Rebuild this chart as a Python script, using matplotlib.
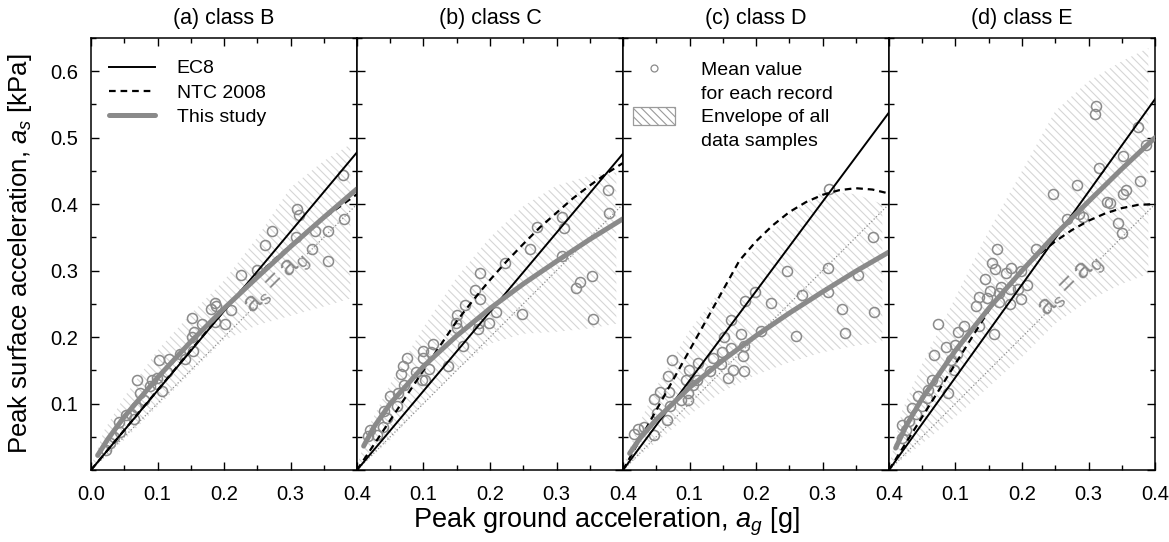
import matplotlib
matplotlib.use("Agg")
import matplotlib.pyplot as plt
from matplotlib.lines import Line2D
from matplotlib.patches import Patch
from matplotlib.ticker import MultipleLocator

plt.rcParams["font.family"] = ["Liberation Sans", "DejaVu Sans"]
plt.rcParams["mathtext.fontset"] = "custom"
plt.rcParams["mathtext.rm"] = "Liberation Sans"
plt.rcParams["mathtext.it"] = "Liberation Sans:italic"
plt.rcParams["hatch.linewidth"] = 0.8

TITLES = ["(a) class B", "(b) class C", "(c) class D", "(d) class E"]

# EC8 straight line: a_s at a_g = 0 and 0.4
EC8_X = [0.0, 0.4]
EC8_B = [0.0, 0.478]
EC8_C = [0.0, 0.476]
EC8_D = [0.0, 0.538]
EC8_E = [0.0, 0.558]

# NTC 2008 curves
NTC_X = [0.0, 0.05, 0.1, 0.15, 0.175, 0.2, 0.225, 0.25, 0.275, 0.3, 0.325, 0.35, 0.375, 0.4]
NTC_B = [0.0, 0.06, 0.12, 0.18, 0.21, 0.24, 0.269, 0.293, 0.316, 0.338, 0.359, 0.379, 0.397, 0.415]
NTC_C = [0.0, 0.075, 0.15, 0.224, 0.256, 0.286, 0.314, 0.340, 0.365, 0.387, 0.409, 0.428, 0.446, 0.462]
NTC_D = [0.0, 0.09, 0.18, 0.27, 0.315, 0.344, 0.368, 0.388, 0.403, 0.414, 0.421, 0.424, 0.422, 0.416]
NTC_E = [0.0, 0.08, 0.16, 0.24, 0.274, 0.300, 0.324, 0.344, 0.361, 0.375, 0.386, 0.394, 0.399, 0.400]

# "This study" fitted curves
FIT_X = [0.01, 0.025, 0.05, 0.1, 0.15, 0.2, 0.25, 0.3, 0.35, 0.4]
FIT_B = [0.022, 0.046, 0.080, 0.139, 0.193, 0.243, 0.290, 0.336, 0.380, 0.423]
FIT_C = [0.036, 0.064, 0.100, 0.156, 0.202, 0.243, 0.280, 0.314, 0.347, 0.378]
FIT_D = [0.025, 0.047, 0.076, 0.124, 0.165, 0.202, 0.236, 0.268, 0.299, 0.328]
FIT_E = [0.033, 0.065, 0.108, 0.180, 0.243, 0.300, 0.354, 0.404, 0.453, 0.500]

# envelopes of all data samples
ENV_X = [0.0, 0.02, 0.05, 0.1, 0.15, 0.2, 0.25, 0.3, 0.35, 0.39]
ENV_B_UP = [0.005, 0.06, 0.11, 0.18, 0.235, 0.285, 0.35, 0.425, 0.465, 0.49]
ENV_B_LO = [0.0, 0.018, 0.045, 0.095, 0.145, 0.195, 0.218, 0.232, 0.246, 0.258]
ENV_C_UP = [0.005, 0.07, 0.13, 0.215, 0.29, 0.35, 0.397, 0.428, 0.443, 0.448]
ENV_C_LO = [0.0, 0.018, 0.045, 0.1, 0.15, 0.19, 0.205, 0.208, 0.213, 0.22]
ENV_D_UP = [0.005, 0.06, 0.125, 0.21, 0.275, 0.335, 0.385, 0.42, 0.415, 0.40]
ENV_D_LO = [0.0, 0.017, 0.042, 0.083, 0.118, 0.143, 0.162, 0.177, 0.187, 0.193]
ENV_E_UP = [0.005, 0.09, 0.16, 0.26, 0.36, 0.45, 0.54, 0.585, 0.615, 0.635]
ENV_E_LO = [0.0, 0.016, 0.04, 0.08, 0.125, 0.17, 0.22, 0.255, 0.28, 0.295]

# mean value for each record
MEAN_B_X = [0.379, 0.310, 0.313, 0.272, 0.262, 0.249, 0.225, 0.309, 0.337, 0.356, 0.332, 0.381,
            0.356, 0.211, 0.187, 0.188, 0.181, 0.186, 0.201, 0.152, 0.167, 0.155, 0.152, 0.153,
            0.141, 0.134, 0.117, 0.102, 0.115, 0.107, 0.099, 0.092, 0.069, 0.073, 0.079, 0.067,
            0.064, 0.052, 0.042, 0.044, 0.034, 0.029, 0.022, 0.089, 0.099, 0.060]
MEAN_B_Y = [0.444, 0.393, 0.384, 0.360, 0.338, 0.301, 0.294, 0.351, 0.360, 0.360, 0.333, 0.377,
            0.314, 0.241, 0.251, 0.247, 0.242, 0.222, 0.220, 0.228, 0.219, 0.208, 0.200, 0.179,
            0.167, 0.175, 0.167, 0.166, 0.148, 0.119, 0.138, 0.136, 0.135, 0.116, 0.105, 0.095,
            0.076, 0.083, 0.072, 0.057, 0.050, 0.040, 0.030, 0.126, 0.129, 0.085]

MEAN_C_X = [0.377, 0.379, 0.308, 0.312, 0.271, 0.260, 0.223, 0.354, 0.335, 0.330, 0.355, 0.248,
            0.185, 0.178, 0.185, 0.163, 0.150, 0.149, 0.150, 0.183, 0.182, 0.199, 0.209, 0.160,
            0.137, 0.115, 0.112, 0.099, 0.100, 0.108, 0.102, 0.097, 0.089, 0.075, 0.069, 0.066,
            0.070, 0.062, 0.049, 0.040, 0.045, 0.060, 0.039, 0.030, 0.020, 0.017, 0.308]
MEAN_C_Y = [0.422, 0.387, 0.380, 0.364, 0.366, 0.333, 0.312, 0.292, 0.283, 0.274, 0.227, 0.235,
            0.296, 0.271, 0.257, 0.248, 0.233, 0.221, 0.213, 0.221, 0.212, 0.221, 0.237, 0.186,
            0.157, 0.189, 0.177, 0.179, 0.168, 0.152, 0.136, 0.135, 0.148, 0.168, 0.157, 0.144,
            0.128, 0.116, 0.111, 0.089, 0.078, 0.096, 0.065, 0.052, 0.060, 0.051, 0.322]

MEAN_D_X = [0.310, 0.376, 0.247, 0.308, 0.353, 0.269, 0.308, 0.222, 0.198, 0.184, 0.329, 0.378,
            0.334, 0.260, 0.208, 0.162, 0.178, 0.152, 0.182, 0.163, 0.149, 0.135, 0.147, 0.181,
            0.166, 0.182, 0.158, 0.131, 0.113, 0.099, 0.074, 0.068, 0.112, 0.095, 0.106, 0.097,
            0.087, 0.097, 0.069, 0.055, 0.046, 0.071, 0.066, 0.046, 0.032, 0.022, 0.017, 0.051]
MEAN_D_Y = [0.423, 0.350, 0.299, 0.304, 0.293, 0.263, 0.268, 0.252, 0.268, 0.255, 0.242, 0.237,
            0.206, 0.201, 0.209, 0.226, 0.205, 0.200, 0.187, 0.183, 0.178, 0.168, 0.159, 0.171,
            0.150, 0.149, 0.138, 0.149, 0.161, 0.150, 0.165, 0.142, 0.135, 0.135, 0.128, 0.116,
            0.105, 0.106, 0.118, 0.117, 0.107, 0.097, 0.075, 0.053, 0.065, 0.062, 0.054, 0.086]

MEAN_E_X = [0.311, 0.310, 0.374, 0.352, 0.386, 0.316, 0.282, 0.247, 0.378, 0.356, 0.352, 0.328,
            0.333, 0.268, 0.286, 0.292, 0.344, 0.350, 0.221, 0.162, 0.155, 0.160, 0.176, 0.183,
            0.199, 0.207, 0.194, 0.182, 0.169, 0.144, 0.152, 0.165, 0.147, 0.135, 0.131, 0.182,
            0.198, 0.165, 0.136, 0.158, 0.113, 0.104, 0.073, 0.085, 0.099, 0.102, 0.093, 0.097,
            0.067, 0.064, 0.072, 0.089, 0.059, 0.044, 0.057, 0.049, 0.034, 0.040, 0.030, 0.019,
            0.025, 0.019]
MEAN_E_Y = [0.547, 0.535, 0.516, 0.473, 0.489, 0.454, 0.429, 0.416, 0.435, 0.422, 0.415, 0.403,
            0.401, 0.378, 0.385, 0.380, 0.372, 0.357, 0.332, 0.332, 0.312, 0.302, 0.296, 0.304,
            0.299, 0.278, 0.272, 0.272, 0.275, 0.287, 0.270, 0.266, 0.259, 0.261, 0.247, 0.250,
            0.257, 0.253, 0.216, 0.205, 0.217, 0.207, 0.220, 0.185, 0.188, 0.174, 0.166, 0.151,
            0.173, 0.136, 0.134, 0.116, 0.121, 0.111, 0.108, 0.096, 0.093, 0.084, 0.074, 0.067,
            0.060, 0.048]

EC8_ALL = [EC8_B, EC8_C, EC8_D, EC8_E]
NTC_ALL = [NTC_B, NTC_C, NTC_D, NTC_E]
FIT_ALL = [FIT_B, FIT_C, FIT_D, FIT_E]
ENV_ALL = [(ENV_B_LO, ENV_B_UP), (ENV_C_LO, ENV_C_UP), (ENV_D_LO, ENV_D_UP), (ENV_E_LO, ENV_E_UP)]
MEAN_ALL = [(MEAN_B_X, MEAN_B_Y), (MEAN_C_X, MEAN_C_Y), (MEAN_D_X, MEAN_D_Y), (MEAN_E_X, MEAN_E_Y)]
# panels where the a_s = a_g line carries a label: (gap start, gap end)
ONE_TO_ONE_GAP = {0: (0.246, 0.325), 3: (0.242, 0.318)}

GREY = "#8a8a8a"
HATCH_COLOR = "#d6d6d6"
HATCH = "\\\\\\\\"

fig = plt.figure(figsize=(11.69, 5.42), dpi=100)
left, bottom, pw, ph = 91 / 1169, 72 / 542, 266 / 1169, 432 / 542

axes = []
for i in range(4):
    ax = fig.add_axes([left + i * pw, bottom, pw, ph])
    axes.append(ax)
    lo, up = ENV_ALL[i]
    ax.fill_between(ENV_X, lo, up, facecolor="none", edgecolor=HATCH_COLOR,
                    hatch=HATCH, linewidth=0, zorder=1)

    # a_s = a_g reference line
    if i in ONE_TO_ONE_GAP:
        g0, g1 = ONE_TO_ONE_GAP[i]
        ax.plot([0, g0], [0, g0], ls=":", color="#909090", lw=0.9, zorder=2)
        ax.plot([g1, 0.4], [g1, 0.4], ls=":", color="#909090", lw=0.9, zorder=2)
        ax.text((g0 + g1) / 2 - 0.004, (g0 + g1) / 2 - 0.006, r"$\mathrm{a_s = a_g}$",
                rotation=45, rotation_mode="anchor", ha="center", va="center",
                color="#8a8a8a", fontsize=20, zorder=3)
    else:
        ax.plot([0, 0.4], [0, 0.4], ls=":", color="#909090", lw=0.9, zorder=2)

    mx, my = MEAN_ALL[i]
    ax.plot(mx, my, "o", ms=7.2, mfc="none", mec=GREY, mew=1.1, zorder=3)

    ax.plot(EC8_X, EC8_ALL[i], "-", color="black", lw=1.4, zorder=4)
    ax.plot(NTC_X, NTC_ALL[i], "--", color="black", lw=1.6, dashes=(3, 2.2), zorder=4)
    ax.plot(FIT_X, FIT_ALL[i], "-", color=GREY, lw=3.6, solid_capstyle="round", zorder=5)

    ax.set_xlim(0, 0.4)
    ax.set_ylim(0, 0.65)
    ax.xaxis.set_major_locator(MultipleLocator(0.1))
    ax.xaxis.set_minor_locator(MultipleLocator(0.05))
    ax.yaxis.set_major_locator(MultipleLocator(0.1))
    ax.yaxis.set_minor_locator(MultipleLocator(0.05))
    ax.tick_params(which="both", direction="in", top=True, right=True, width=1,
                   labelsize=14.5)
    ax.tick_params(which="major", length=6)
    ax.tick_params(which="minor", length=3.5)
    ax.tick_params(axis="x", pad=11)
    ax.tick_params(axis="y", pad=9)
    for sp in ax.spines.values():
        sp.set_linewidth(1.1)
    ax.set_title(TITLES[i], fontsize=15.5, pad=10)

    if i == 0:
        ax.set_xticks([0, 0.1, 0.2, 0.3, 0.4], ["0.0", "0.1", "0.2", "0.3", "0.4"])
        ax.set_yticks([0.1, 0.2, 0.3, 0.4, 0.5, 0.6],
                      ["0.1", "0.2", "0.3", "0.4", "0.5", "0.6"])
        ax.set_ylabel(r"Peak surface acceleration, $a_s$ [kPa]", fontsize=18.5, labelpad=12)
    else:
        ax.set_xticks([0, 0.1, 0.2, 0.3, 0.4], ["", "0.1", "0.2", "0.3", "0.4"])
        ax.tick_params(labelleft=False)

# legends
h1 = [Line2D([], [], color="black", lw=1.4),
      Line2D([], [], color="black", lw=1.6, ls="--", dashes=(3, 2.2)),
      Line2D([], [], color=GREY, lw=3.6, solid_capstyle="round")]
axes[0].legend(h1, ["EC8", "NTC 2008", "This study"], loc="upper left",
               bbox_to_anchor=(0.0, 0.99), frameon=False, fontsize=14,
               handlelength=2.4, handletextpad=1.1, labelspacing=0.35)

# second legend: each text line is its own row so the handles sit on the first line
blank = Line2D([], [], ls="none")
h2 = [Line2D([], [], ls="none", marker="o", ms=5, mfc="none", mec=GREY, mew=0.9),
      blank,
      Patch(facecolor="white", edgecolor="#9a9a9a", hatch=HATCH, lw=0.9),
      blank]
axes[2].legend(h2, ["Mean value", "for each record", "Envelope of all", "data samples"],
               loc="upper left", bbox_to_anchor=(-0.03, 0.99), frameon=False,
               fontsize=14, handlelength=2.2, handleheight=1.0,
               handletextpad=1.3, labelspacing=0.22)

fig.text(606 / 1169, 20 / 542, r"Peak ground acceleration, $a_g$ [g]",
         ha="center", va="center", fontsize=19.5)

fig.savefig("out.png", dpi=100)
